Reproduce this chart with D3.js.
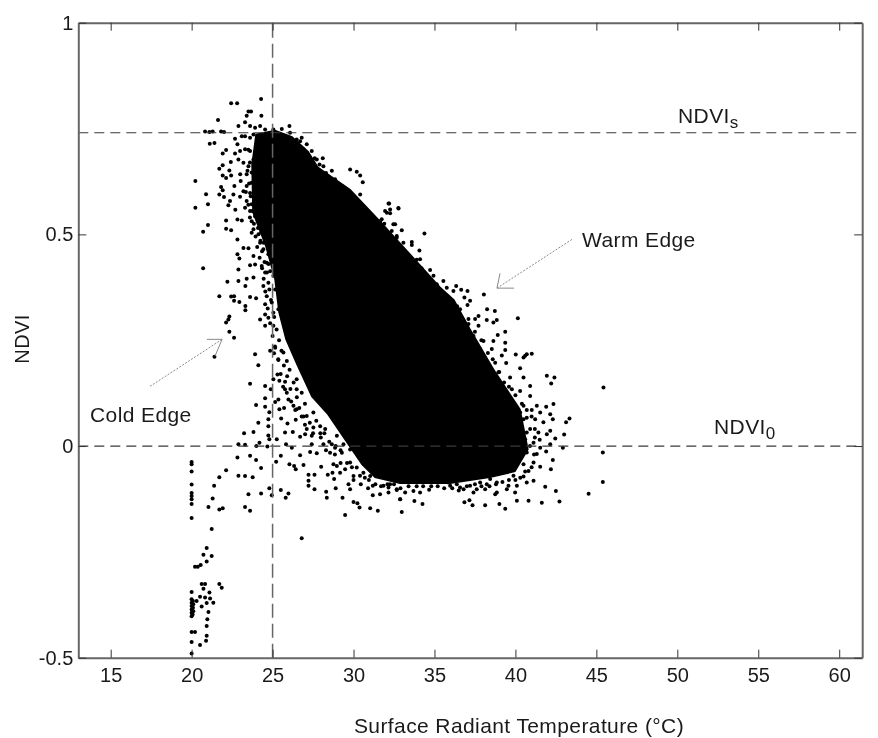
<!DOCTYPE html>
<html><head><meta charset="utf-8">
<style>html,body{margin:0;padding:0;background:#fff}svg{display:block;filter:blur(0.35px)}text{font-family:"Liberation Sans",Arial,sans-serif;fill:#1a1a1a}</style>
<script src="https://cdn.jsdelivr.net/npm/d3@7/dist/d3.min.js"></script></head><body>
<svg id="c" width="878" height="738"></svg>
<script>
const xTicks=[15,20,25,30,35,40,45,50,55,60];
const yTicks=[-0.5,0,0.5,1];
const refLines={ndviS:0.74,ndvi0:0,tCold:25};
// dense core of the cloud, traced as an outline [temperature, NDVI]
const coreOutline=[[23.73,.665],[23.98,.736],[25.15,.745],[26.2,.73],[27.2,.695],[27.80,.658],[29.78,.606],[31.63,.531],[33.49,.453],[35.34,.375],[36.2,.345],[37.19,.276],[38.73,.176],[40.28,.087],[40.77,-.008],[39.97,-.060],[38.42,-.074],[35.96,-.088],[32.87,-.088],[31.33,-.074],[30.52,-.043],[29.47,.016],[28.42,.075],[27.43,.117],[26.51,.193],[25.83,.252],[25.40,.316],[25.15,.394],[24.59,.472],[23.79,.552]];
const upperLeft=[[22.44,.81],[22.81,.81],[24.29,.82],[23.51,.79],[23.67,.79],[23.40,.78],[24.31,.78],[21.63,.77],[23.30,.765],[22.89,.756],[20.83,.743],[21.30,.743],[21.10,.742],[21.82,.743],[22.00,.742],[21.12,.714],[21.41,.716],[22.13,.699],[21.92,.691],[22.42,.671],[21.92,.663],[21.71,.655],[22.33,.651],[21.92,.639],[22.13,.633],[22.44,.639],[23.0,.642],[20.23,.626],[21.82,.612],[21.92,.604],[22.64,.614],[23.03,.626],[20.89,.595],[21.71,.594],[22.0,.588],[22.58,.594],[22.99,.589],[22.37,.579],[22.27,.569],[21.01,.571],[20.23,.563],[22.70,.558],[22.13,.533],[22.83,.535],[23.10,.533],[21.01,.522],[22.13,.513],[22.44,.510],[20.71,.506],[22.83,.488],[23.20,.468],[23.51,.467],[22.83,.453],[22.95,.443],[20.71,.420],[22.89,.417],[22.21,.388],[22.89,.390],[23.40,.395],[23.82,.398],[23.32,.378],[23.61,.427],[23.92,.429],[21.71,.354],[22.44,.353],[22.62,.354],[22.62,.343],[22.95,.340],[23.61,.352],[23.98,.349],[23.32,.331],[23.32,.321],[22.33,.306],[22.27,.299],[22.13,.292],[24.23,.299],[24.54,.311],[29.79,.653],[30.2,.648],[30.41,.639],[30.57,.623],[30.41,.594],[28.10,.680],[32.2,.573],[32.78,.561]];
const coldFringe=[[23.61,.756],[23.92,.752],[23.82,.736],[23.61,.728],[23.30,.732],[22.68,.726],[23.10,.732],[22.83,.713],[22.99,.697],[23.30,.701],[23.61,.697],[22.68,.691],[22.89,.677],[23.20,.669],[23.51,.661],[23.82,.677],[24.02,.653],[23.40,.642],[23.71,.646],[24.02,.630],[23.71,.622],[23.40,.614],[23.20,.602],[23.61,.598],[23.92,.591],[23.40,.579],[23.71,.571],[24.02,.563],[23.30,.563],[23.61,.555],[23.92,.543],[23.71,.531],[24.13,.528],[23.82,.512],[24.13,.500],[23.71,.504],[24.23,.480],[24.43,.465],[24.74,.453],[24.95,.465],[23.82,.449],[24.64,.433],[24.33,.425],[24.54,.410],[24.85,.413],[25.05,.402],[24.74,.386],[24.43,.378],[25.16,.370],[24.64,.354],[24.95,.339],[24.54,.335],[25.05,.315],[25.36,.323],[25.57,.339],[24.74,.303],[25.05,.284],[24.54,.284],[25.67,.299],[25.36,.378],[25.46,.394],[25.67,.354],[25.26,.441],[25.16,.488]];
const topFringe=[[24.23,.756],[24.54,.748],[25.05,.748],[25.57,.749],[26.04,.756],[25.67,.728],[26.08,.740],[26.49,.724],[26.80,.728],[27.11,.713],[27.42,.697],[26.91,.701],[27.73,.677],[28.14,.661],[28.66,.650],[28.86,.630],[29.28,.614],[29.58,.594],[30.0,.583],[30.61,.563],[31.03,.543],[31.64,.531],[32.06,.551],[32.57,.524],[31.85,.504],[32.67,.496],[32.26,.472],[32.78,.441],[32.36,.457]];
const lowerLeft=[[22.33,.27],[22.62,.256],[21.41,.211],[23.92,.217],[24.12,.191],[23.61,.147],[24.54,.142],[24.89,.134],[24.54,.113],[23.98,.097],[24.54,.093],[24.80,.080],[24.12,.055],[24.74,.063],[24.74,.047],[23.24,.030],[23.82,.033],[24.74,.025],[24.80,.016],[22.89,.004],[23.30,.003],[24.19,.008],[24.0,0],[24.68,-.001],[22.83,-.027],[23.61,-.023],[23.98,-.033],[24.29,-.052],[22.13,-.057],[21.71,-.074],[22.89,-.070],[23.30,-.071],[23.77,-.074],[21.39,-.094],[23.51,-.114],[24.29,-.112],[24.80,-.100],[24.95,-.116],[21.30,-.124],[21.04,-.144],[21.71,-.150],[21.92,-.147],[23.30,-.144],[23.61,-.153],[21.24,-.196],[20.93,-.241],[20.73,-.257],[21.24,-.26],[20.93,-.273],[20.21,-.285],[20.38,-.285],[20.56,-.281],[20.62,-.326],[20.83,-.326],[20.73,-.337],[21.71,-.326],[21.86,-.335],[20.0,-.345],[20.52,-.356],[20.83,-.358],[21.10,-.346],[21.14,-.36],[21.34,-.37],[20.93,-.371],[20.62,-.379],[20.31,-.366],[21.04,-.392],[20.97,-.409],[20.93,-.425],[20.21,-.439],[20.0,-.439],[20.93,-.448],[20.89,-.46],[20.52,-.47],[20.0,-.463]];
const strip20=[[20,-.038],[20,-.043],[20,-.06],[20,-.091],[20,-.111],[20,-.118],[20,-.126],[20,-.137],[20,-.17],[20,-.362],[20.08,-.366],[20,-.37],[20.1,-.374],[20,-.378],[20.08,-.382],[20,-.386],[20.1,-.39],[20,-.394],[20.06,-.398],[20,-.402],[20,-.49]];
const belowCore=[[25.16,.232],[24.85,.225],[25.09,.219],[25.36,.203],[25.67,.221],[25.88,.201],[25.30,.169],[25.05,.158],[25.42,.154],[25.77,.152],[26.49,.158],[25.77,.134],[25.88,.126],[25.36,.110],[25.16,.104],[25.98,.110],[26.49,.134],[26.80,.126],[26.29,.095],[26.49,.087],[25.42,.087],[25.71,.090],[25.53,.065],[25.92,.053],[26.43,.062],[27.11,.071],[27.52,.079],[26.91,.070],[27.11,.040],[26.70,.022],[27.01,.028],[27.52,.044],[27.94,.047],[28.25,.040],[27.42,.024],[27.98,.020],[25.77,.032],[26.25,.033],[25.26,.016],[25.83,.004],[26.19,-.004],[27.42,.004],[28.14,.004],[28.66,.004],[28.97,.024],[28.86,-.004],[29.28,-.016],[29.38,.004],[25.51,-.023],[25.22,-.037],[26.70,-.022],[27.32,-.014],[27.73,-.017],[28.55,-.016],[26.04,-.043],[26.33,-.047],[26.43,-.055],[26.91,-.045],[28.0,-.049],[28.76,-.043],[28.97,-.047],[29.17,-.063],[29.48,-.055],[27.22,-.068],[27.59,-.068],[28.41,-.068],[28.70,-.063],[27.22,-.082],[27.22,-.094],[27.59,-.102],[28.80,-.078],[29.69,-.090],[29.79,-.102],[28.90,-.100],[28.31,-.108],[28.35,-.122],[25.51,-.104],[25.98,-.112],[25.81,-.122],[29.32,-.122],[30.0,-.132],[30.24,-.135],[30.37,-.145],[31.03,-.147],[31.50,-.153],[29.48,-.163],[26.80,-.218],[31.19,-.094],[31.64,-.114],[32.16,-.110],[32.67,-.104],[31.19,-.116],[32.88,-.126],[29.79,-.039],[30.2,-.051],[30.61,-.063],[31.03,-.071],[30.0,-.071],[30.82,-.039],[31.23,-.023],[30.41,-.016],[29.79,-.008],[31.64,-.063],[32.26,-.090],[31.85,-.094]];
const warmFringe=[[32.16,.573],[32.77,.562],[32.26,.559],[31.95,.555],[32.26,.550],[31.74,.536],[32.46,.524],[32.98,.510],[34.38,.502],[32.36,.508],[32.67,.492],[33.08,.480],[33.60,.482],[33.60,.475],[34.07,.462],[34.11,.441],[33.19,.453],[33.70,.433],[34.01,.421],[34.73,.416],[34.32,.406],[34.94,.402],[34.63,.386],[35.55,.390],[35.14,.382],[35.76,.374],[36.34,.378],[36.65,.369],[37.04,.366],[36.17,.366],[36.85,.351],[37.20,.343],[37.04,.333],[38.05,.358],[38.25,.323],[38.73,.319],[40.15,.302],[38.23,.298],[38.85,.298],[38.64,.292],[37.72,.307],[37.51,.300],[36.58,.323],[35.97,.339],[35.35,.355],[34.94,.327],[36.38,.311],[37.10,.288],[37.72,.284],[39.37,.270],[38.91,.262],[39.37,.244],[38.64,.248],[38.03,.248],[37.41,.260],[37.82,.229],[38.54,.229],[39.37,.227],[39.16,.214],[40.02,.216],[40.50,.209],[40.70,.217],[41.01,.218],[40.60,.213],[38.75,.197],[39.43,.196],[40.29,.184],[38.95,.174],[38.23,.185],[39.67,.162],[40.50,.162],[41.94,.166],[42.41,.162],[42.21,.148],[40.91,.142],[45.44,.138],[39.06,.142],[39.78,.134],[40.29,.130],[40.91,.118],[39.47,.115],[40.50,.095],[41.32,.095],[41.90,.093],[42.35,.099],[41.01,.085],[41.53,.079],[42.15,.075],[42.31,.063],[43.34,.065],[43.13,.056],[40.70,.067],[41.22,.063],[41.73,.056],[42.15,.036],[43.01,.027],[40.91,.040],[41.42,.032],[41.94,.028],[42.46,.018],[40.60,.016],[41.12,.008],[41.53,-.004],[42.15,.004],[42.93,-.004],[38.64,.126],[39.26,.103],[39.78,.079],[38.34,.166],[37.72,.205],[37.20,.244],[36.79,.268],[36.27,.307],[35.66,.339],[35.04,.370],[34.42,.394],[40.29,.079],[40.50,.063],[40.09,.040],[40.70,.032]];
const lowerRight=[[41.90,-.013],[45.40,-.015],[41.32,-.019],[40.70,-.015],[42.31,-.033],[40.50,-.043],[41.12,-.039],[41.53,-.049],[42.19,-.055],[40.81,-.059],[40.50,-.072],[45.40,-.085],[41.12,-.082],[40.70,-.086],[41.84,-.096],[42.50,-.106],[44.52,-.113],[40.09,-.129],[40.81,-.129],[41.63,-.134],[42.72,-.131],[39.98,-.110],[39.47,-.102],[38.85,-.110],[38.23,-.090],[37.61,-.102],[36.80,-.102],[36.38,-.090],[35.86,-.086],[36.85,-.133],[37.16,-.128],[37.35,-.140],[38.13,-.140],[39.01,-.137],[39.37,-.148],[34.67,-.103],[34.11,-.110],[33.70,-.106],[33.19,-.110],[32.67,-.102],[32.16,-.098],[32.88,-.126],[33.76,-.130],[34.26,-.137],[32.98,-.156],[38.85,-.063],[39.47,-.055],[39.88,-.070],[38.44,-.078],[37.82,-.086],[37.20,-.094],[39.88,-.039],[39.26,-.023],[40.29,0],[38.85,-.086],[39.57,-.094],[40.09,-.094],[38.13,-.102],[38.75,-.114],[37.41,-.110],[36.58,-.098],[35.97,-.094]];
const leftDense=[[23.5,.70],[23.6,.67],[23.45,.65],[23.55,.62],[23.35,.60],[23.65,.59],[23.5,.57],[23.75,.555],[24.0,.55],[24.15,.54],[23.6,.54],[23.85,.525],[24.1,.515],[24.3,.505],[23.95,.495],[24.25,.485],[24.45,.48],[24.05,.47],[24.35,.46],[24.2,.445],[24.5,.435],[24.75,.43],[24.35,.42],[24.65,.41],[24.45,.395],[24.8,.37],[24.55,.365],[24.9,.345],[24.7,.325],[25.1,.305],[24.85,.29],[25.25,.275],[25.0,.26],[25.4,.25],[25.15,.235],[25.55,.225],[25.35,.205],[25.7,.19],[26.05,.18],[25.5,.17],[25.9,.165],[26.3,.15],[25.65,.14],[26.1,.135],[26.5,.115],[26.15,.105],[26.65,.09],[27.0,.10],[26.4,.085],[26.8,.07],[27.3,.055],[27.7,.06],[27.0,.05],[27.5,.03],[27.95,.03],[28.2,.03],[28.5,.01],[28.9,0],[29.2,-.01],[28.3,-.01],[28.85,-.02],[29.6,-.04],[29.9,-.05],[29.2,-.04],[30.4,-.07],[30.7,-.075],[30.0,-.08],[30.95,-.08],[30.45,-.09],[30.9,-.1],[31.35,-.09],[31.7,-.095],[32.1,-.09]];
const warmDense=[[26.7,.72],[27.6,.68],[27.9,.665],[28.3,.645],[28.6,.625],[29.0,.615],[29.4,.60],[30.3,.575],[30.7,.555],[31.1,.53],[31.5,.52],[31.9,.525],[32.1,.49],[32.5,.48],[32.9,.455],[33.9,.44],[34.2,.42],[34.6,.385],[35.6,.355],[36.4,.33],[36.8,.295],[37.1,.30],[37.5,.27],[37.9,.25],[38.3,.22],[38.6,.205],[39.0,.175],[39.3,.15],[39.6,.14],[40.0,.12],[40.4,.10],[40.7,.085],[41.0,.07],[41.2,.04],[41.2,.02],[41.5,.015],[40.9,0],[41.15,-.02],[41.0,-.05],[40.6,-.06],[40.3,-.075],[40.0,-.08],[39.6,-.08],[39.2,-.085],[38.8,-.09],[38.4,-.095],[37.9,-.095],[37.5,-.09],[37.0,-.095],[36.5,-.105],[36.1,-.10],[35.6,-.10],[35.2,-.095],[34.8,-.095],[34.3,-.095],[33.9,-.095],[33.4,-.095],[32.9,-.10],[32.5,-.09]];
const warmArrow=[[[43.49,.488],[38.86,.373]],[[39.05,.408],[38.86,.373],[39.91,.373]]];
const coldArrow=[[[17.43,.141],[21.88,.252]],[[20.95,.252],[21.88,.252],[21.44,.212]]];

const svg=d3.select('#c');
const x=d3.scaleLinear().domain([13,61.42]).range([78.3,862.2]);
const y=d3.scaleLinear().domain([-0.5,1]).range([657.7,22.7]);
const line=d3.line().x(d=>x(d[0])).y(d=>y(d[1]));
const ink='#3a3a3a';

svg.append('path').datum(coreOutline).attr('d',line.curve(d3.curveLinearClosed)).attr('fill','#000').attr('stroke','#000').attr('stroke-width',1.5);
line.curve(d3.curveLinear);
const allPts=[].concat(upperLeft,coldFringe,topFringe,lowerLeft,strip20,belowCore,warmFringe,lowerRight,leftDense,warmDense);
svg.append('g').selectAll('circle').data(allPts).join('circle').attr('cx',d=>x(d[0])).attr('cy',d=>y(d[1])).attr('r',2).attr('fill','#000');

const dash=svg.append('g').attr('fill','none').attr('stroke',ink).attr('stroke-width',1.2);
dash.append('line').attr('x1',x.range()[0]).attr('x2',x.range()[1]).attr('y1',y(refLines.ndviS)).attr('y2',y(refLines.ndviS)).attr('stroke-dasharray','10 6');
dash.append('line').attr('x1',x.range()[0]).attr('x2',x.range()[1]).attr('y1',y(refLines.ndvi0)).attr('y2',y(refLines.ndvi0)).attr('stroke-dasharray','10 6');
dash.append('line').attr('x1',x(refLines.tCold)).attr('x2',x(refLines.tCold)).attr('y1',y.range()[0]).attr('y2',y.range()[1]).attr('stroke','#666').attr('stroke-width',1.5).attr('stroke-dasharray','14 6');

const arrows=svg.append('g').attr('fill','none').attr('stroke','#888').attr('stroke-width',1);
warmArrow.concat(coldArrow).forEach((seg,i)=>arrows.append('path').attr('d',line(seg)).attr('stroke-dasharray',i%2?null:'2 1.5'));

const fmt=d=>String(d);
function styleAxis(g){g.selectAll('.domain').attr('stroke','#666').attr('stroke-width',2);g.selectAll('.tick line').attr('stroke','#333').attr('stroke-width',1);g.selectAll('text').attr('font-size',20).attr('fill','#1a1a1a').style('font-family','"Liberation Sans",Arial,sans-serif');}
svg.append('g').attr('transform',`translate(0,${y.range()[0]})`).call(d3.axisBottom(x).tickValues(xTicks).tickSize(-8).tickSizeOuter(0).tickPadding(10).tickFormat(fmt)).call(styleAxis);
svg.append('g').attr('transform',`translate(0,${y.range()[1]})`).call(d3.axisTop(x).tickValues(xTicks).tickSize(-8).tickSizeOuter(0).tickFormat('')).call(styleAxis);
svg.append('g').attr('transform',`translate(${x.range()[0]},0)`).call(d3.axisLeft(y).tickValues(yTicks).tickSize(-8).tickSizeOuter(0).tickPadding(5).tickFormat(fmt)).call(styleAxis);
svg.append('g').attr('transform',`translate(${x.range()[1]},0)`).call(d3.axisRight(y).tickValues(yTicks).tickSize(-8).tickSizeOuter(0).tickFormat('')).call(styleAxis);

function label(t,px,py,size,anchor){return svg.append('text').attr('x',px).attr('y',py).attr('font-size',size).attr('letter-spacing',0.4).attr('text-anchor',anchor||'start').text(t);}
label('Surface Radiant Temperature (°C)',519,733,21,'middle');
svg.append('text').attr('transform','translate(29,339) rotate(-90)').attr('text-anchor','middle').attr('font-size',20).attr('letter-spacing',0.4).text('NDVI');
label('Warm Edge',582,247,21);
label('Cold Edge',90,422,21);
const s=label('NDVI',678,123,21);s.append('tspan').attr('font-size',17).attr('dy',5).text('s');
const z=label('NDVI',714,434,21);z.append('tspan').attr('font-size',17).attr('dy',5).text('0');
</script></body></html>
